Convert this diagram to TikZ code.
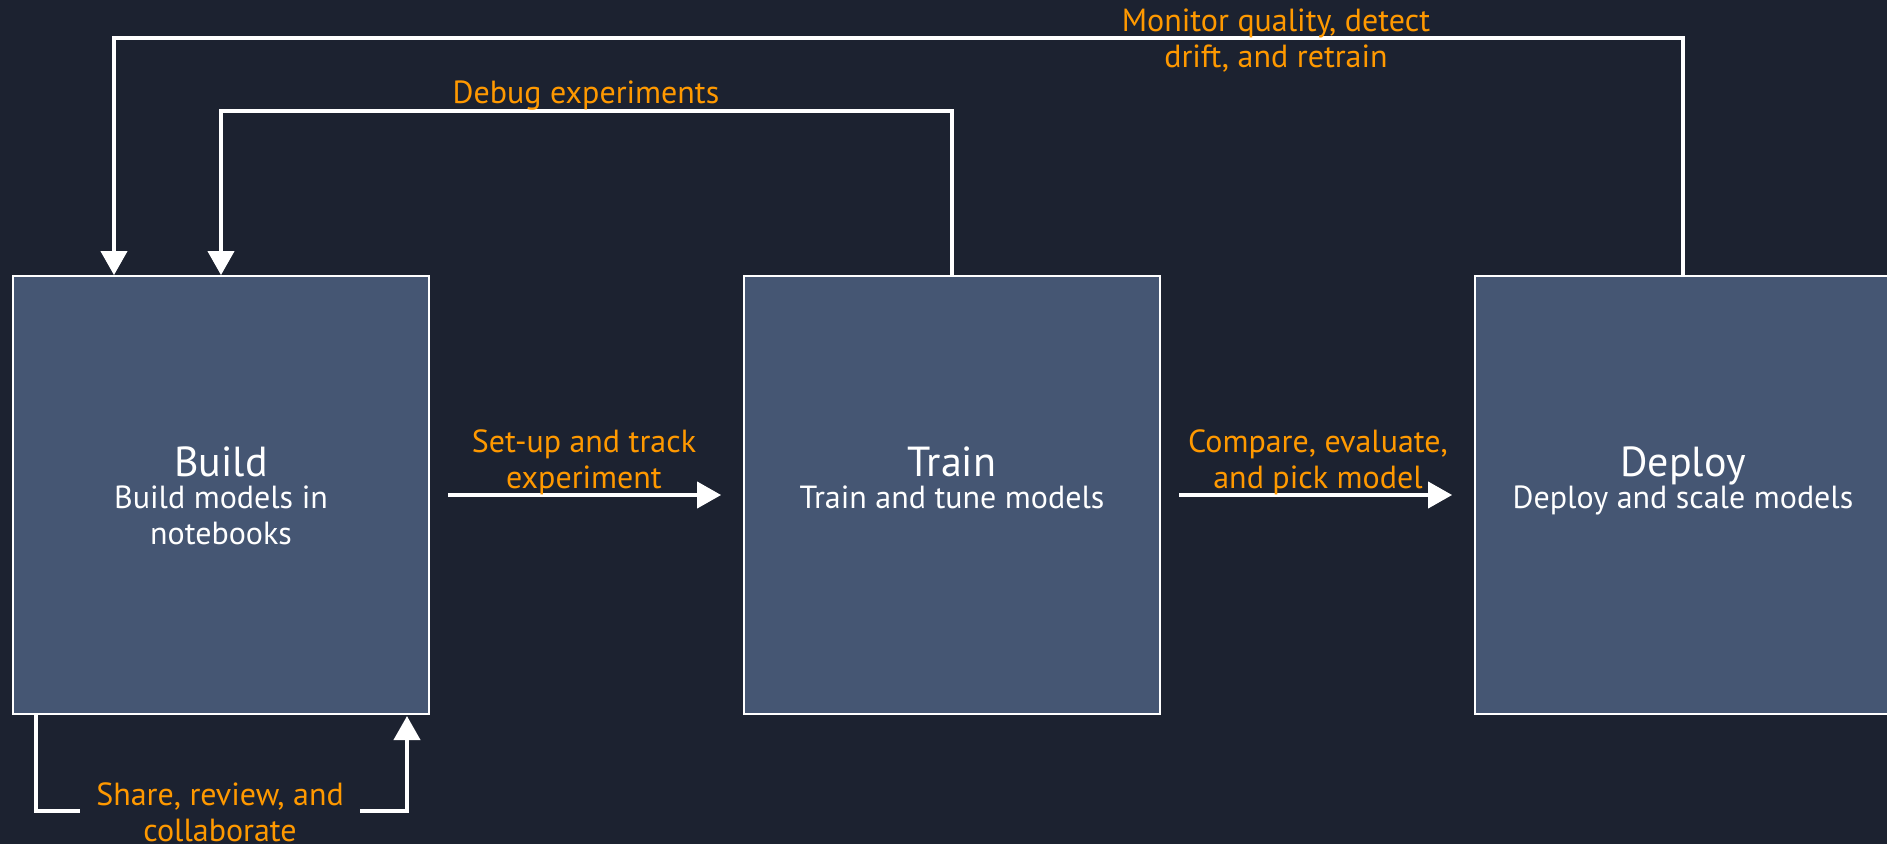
\documentclass[tikz,border=0pt]{standalone}
\usepackage{fontspec}
\setmainfont{PT Sans}
\usetikzlibrary{arrows.meta}
\definecolor{bg}{HTML}{1C2230}
\definecolor{boxfill}{HTML}{455673}
\definecolor{lbl}{HTML}{FF9900}
\tikzset{
  stage/.style={draw=white, line width=1.8pt, fill=boxfill, minimum width=416pt, minimum height=438pt, inner sep=0pt},
  conn/.style={draw=white, line width=4pt, line cap=rect},
  arr/.style={conn, -{Triangle[width=26pt,length=24pt]}},
  lab/.style={text=lbl, font=\fontsize{32}{36}\selectfont, align=center, inner sep=0pt},
  ttl/.style={text=white, font=\fontsize{42}{48}\selectfont, inner sep=0pt, anchor=base},
  sub/.style={text=white, font=\fontsize{32}{35.5}\selectfont, align=center, inner sep=0pt, anchor=base}
}
\begin{document}
\begin{tikzpicture}[x=1pt,y=-1pt]
\fill[bg] (0,0) rectangle (1887,844);
\useasboundingbox (0,0) rectangle (1887,844);

\node[stage] (build) at (221,495) {};
\node[stage] (train) at (952,495) {};
\node[stage] (deploy) at (1683,495) {};

\node[ttl] (buildt) at (221,476) {Build};
\node[sub, anchor=north] (builds) at (221,486) {Build models in\\notebooks};
\node[ttl] (traint) at (952,476) {Train};
\node[sub, anchor=north] (trains) at (952,486) {Train and tune models};
\node[ttl] (deployt) at (1683,476) {Deploy};
\node[sub, anchor=north] (deploys) at (1683,486) {Deploy and scale models};

% monitor loop
\coordinate (m1) at (114,38);
\draw[arr] (deploy.north) |- (m1) -- (m1 |- build.north);
\node[lab] (mlab) at (1276,40.5) {Monitor quality, detect\\drift, and retrain};

% debug loop
\coordinate (d1) at (221,111);
\draw[arr] (train.north) |- (d1) -- (d1 |- build.north);
\node[lab] (dlab) at (586,96) {Debug experiments};

% forward arrows
\draw[arr, shorten <=20pt, shorten >=22pt] (build.east) -- (train.west);
\node[lab] (slab) at (584,462) {Set-up and track\\experiment};
\draw[arr, shorten <=20pt, shorten >=22pt] (train.east) -- (deploy.west);
\node[lab] (clab) at (1318,462) {Compare, evaluate,\\and pick model};

% share loop
\coordinate (s1) at (36,716);
\coordinate (s2) at (36,811);
\coordinate (s3) at (407,811);
\coordinate (s4) at (407,716);
\draw[arr] (s1) -- (s2) -- (s3) -- (s4);
\node[lab, fill=bg, inner xsep=16pt] (shlab) at (220,812) {Share, review, and\\collaborate};
\end{tikzpicture}
\end{document}
